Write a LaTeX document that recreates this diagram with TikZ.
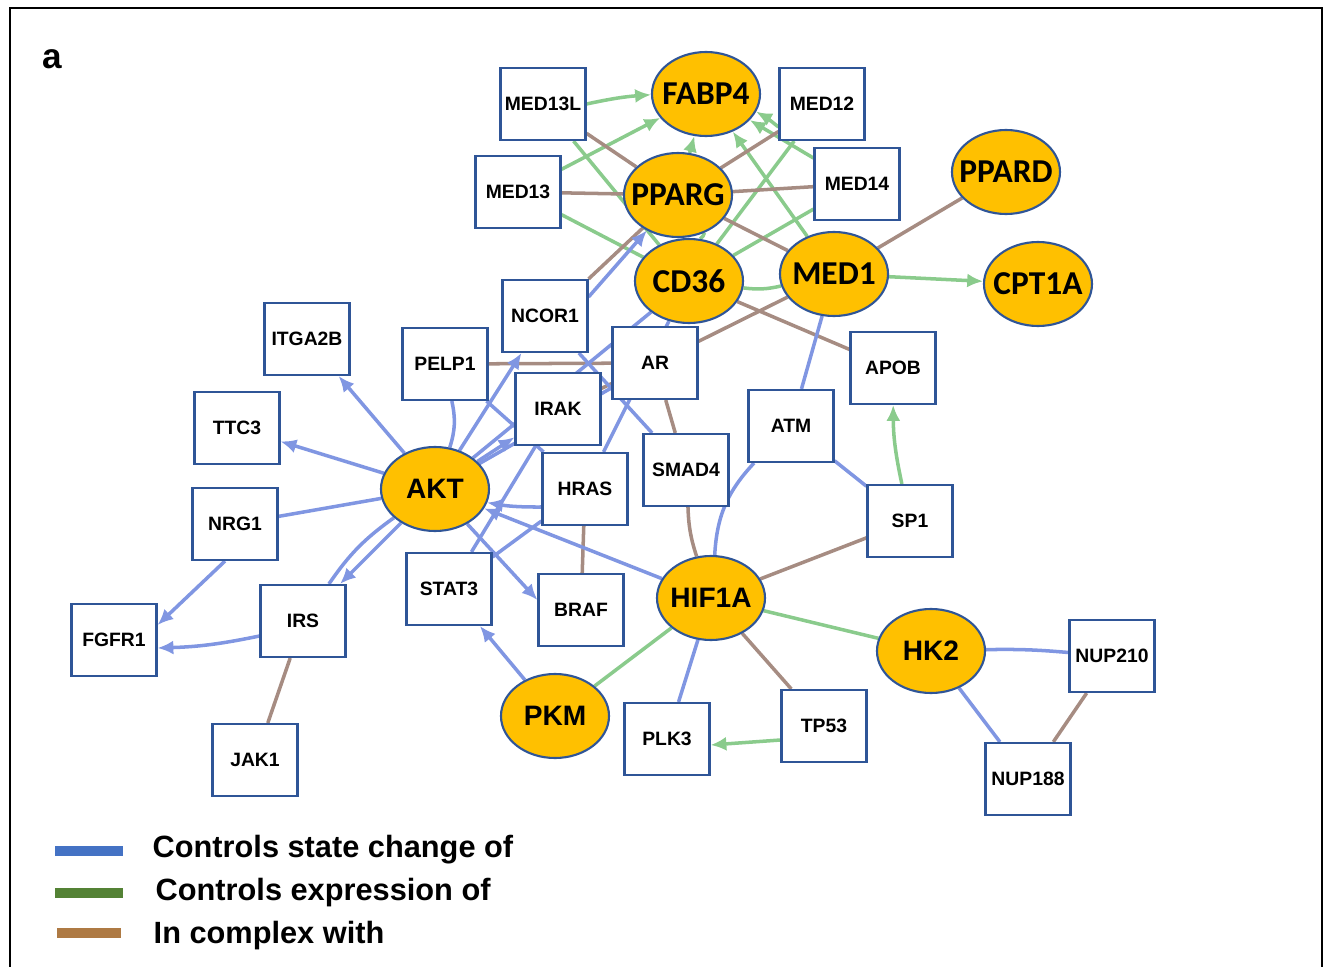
\documentclass[tikz,border=0pt]{standalone}
\usepackage{fontspec}
\setmainfont{Liberation Sans}
\newfontfamily\calfont{Carlito}
\usetikzlibrary{arrows.meta,backgrounds,shapes.geometric}

\definecolor{boxblue}{RGB}{47,85,151}
\definecolor{hubfill}{RGB}{255,192,0}
\definecolor{chgblue}{RGB}{128,150,226}
\definecolor{exprgreen}{RGB}{138,203,140}
\definecolor{cplxbrown}{RGB}{166,140,130}
\definecolor{legblue}{RGB}{68,114,196}
\definecolor{leggreen}{RGB}{84,130,53}
\definecolor{legbrown}{RGB}{174,122,68}

\begin{document}
\begin{tikzpicture}[
		gene/.style={draw=boxblue,line width=0.6pt,fill=white,minimum width=0.85cm,minimum height=0.72cm,inner sep=0pt,font=\bfseries\fontsize{5.5}{6.6}\selectfont},
		hub/.style={ellipse,draw=boxblue,line width=0.6pt,fill=hubfill,minimum width=1.08cm,minimum height=0.84cm,inner ysep=0pt,inner xsep=-2.5pt,font=\calfont\bfseries\fontsize{9.5}{11}\selectfont},
		sighub/.style={hub,font=\bfseries\fontsize{8}{9.6}\selectfont},
		chg/.style={chgblue,line width=1pt},
		expr/.style={exprgreen,line width=1pt},
		cplx/.style={cplxbrown,line width=1pt},
		arrowed/.style={-{Latex[length=4.5pt,width=4pt]}},
		legtext/.style={anchor=base west,inner sep=0pt,font=\bfseries\fontsize{8.75}{10.5}\selectfont}
	]
	\useasboundingbox (0,0) rectangle (13.24,-9.67);
	\draw[line width=0.7pt] (0.10,-9.67) |- (13.22,-0.08) -- (13.22,-9.67);
	\node[anchor=base west,inner sep=0pt,font=\bfseries\fontsize{10}{12}\selectfont] (panel) at (0.42,-0.68) {a};

	\node[gene] (med13l) at (5.43,-1.04) {MED13L};
	\node[gene] (med12) at (8.22,-1.04) {MED12};
	\node[gene] (med13) at (5.18,-1.92) {MED13};
	\node[gene] (med14) at (8.57,-1.84) {MED14};
	\node[gene] (ncor1) at (5.45,-3.16) {NCOR1};
	\node[gene] (itga2b) at (3.07,-3.39) {ITGA2B};
	\node[gene] (pelp1) at (4.45,-3.64) {PELP1};
	\node[gene] (ar) at (6.55,-3.63) {AR};
	\node[gene] (irak) at (5.58,-4.09) {IRAK};
	\node[gene] (apob) at (8.93,-3.68) {APOB};
	\node[gene] (atm) at (7.91,-4.26) {ATM};
	\node[gene] (ttc3) at (2.37,-4.28) {TTC3};
	\node[gene] (smad4) at (6.86,-4.70) {SMAD4};
	\node[gene] (hras) at (5.85,-4.89) {HRAS};
	\node[gene] (nrg1) at (2.35,-5.24) {NRG1};
	\node[gene] (sp1) at (9.10,-5.21) {SP1};
	\node[gene] (stat3) at (4.49,-5.89) {STAT3};
	\node[gene] (braf) at (5.81,-6.10) {BRAF};
	\node[gene] (irs) at (3.03,-6.21) {IRS};
	\node[gene] (fgfr1) at (1.14,-6.40) {FGFR1};
	\node[gene] (nup210) at (11.12,-6.56) {NUP210};
	\node[gene] (tp53) at (8.24,-7.26) {TP53};
	\node[gene] (plk3) at (6.67,-7.39) {PLK3};
	\node[gene] (jak1) at (2.55,-7.60) {JAK1};
	\node[gene] (nup188) at (10.28,-7.79) {NUP188};

	\node[hub] (fabp4) at (7.06,-0.94) {FABP4};
	\node[hub] (pparg) at (6.78,-1.95) {PPARG};
	\node[hub] (ppard) at (10.06,-1.72) {PPARD};
	\node[hub] (cd36) at (6.89,-2.81) {CD36};
	\node[hub] (med1) at (8.34,-2.74) {MED1};
	\node[hub] (cpt1a) at (10.38,-2.84) {CPT1A};
	\node[sighub] (akt) at (4.35,-4.89) {AKT};
	\node[sighub] (hif1a) at (7.11,-5.98) {HIF1A};
	\node[sighub] (hk2) at (9.31,-6.51) {HK2};
	\node[sighub] (pkm) at (5.55,-7.16) {PKM};

	\begin{scope}[on background layer]
		\draw[expr,arrowed] (med13l.east) to[bend left=4] (fabp4);
		\draw[expr,arrowed] (med13) -- (fabp4);
		\draw[expr,arrowed] (pparg) -- (fabp4);
		\draw[expr,arrowed] (med1) -- (fabp4);
		\draw[expr,arrowed] (med14) -- (fabp4);
		\draw[expr,arrowed] ([yshift=-2.3mm]med12.west) to[bend right=5] (fabp4);
		\draw[expr] (med13l) -- (cd36);
		\draw[expr] (med13) -- (cd36);
		\draw[expr] (cd36) -- (med12);
		\draw[expr] (cd36) -- (med14);
		\draw[expr] (cd36) to[bend right=10] (med1);
		\draw[expr] (pparg.-55) to[bend left=20] (cd36.75);
		\draw[expr,arrowed] (med1) -- (cpt1a);
		\draw[expr,arrowed] (sp1) to[bend left=6] (apob);
		\draw[expr] (hif1a) -- (hk2);
		\draw[expr] (hif1a) -- (pkm);
		\draw[expr,arrowed] ([yshift=-1.4mm]tp53.west) -- ([yshift=-0.6mm]plk3.east);

		\draw[cplx] (med13l) -- (pparg);
		\draw[cplx] (med13) -- (pparg);
		\draw[cplx] (pparg) -- (med14);
		\draw[cplx] (pparg) -- (med12);
		\draw[cplx] (pparg) -- (med1);
		\draw[cplx] (med1) -- (ppard);
		\draw[cplx] (cd36) -- (apob);
		\draw[cplx] (med1) -- (ar);
		\draw[cplx] (ncor1.north east) -- (pparg);
		\draw[cplx] (pelp1) -- (ar);
		\draw[cplx] (irak) -- (ar);
		\draw[cplx] (ar) -- (smad4);
		\draw[cplx] (smad4) to[bend right=8] (hif1a);
		\draw[cplx] (hras) -- (braf);
		\draw[cplx] (irs) -- (jak1);
		\draw[cplx] (sp1) -- (hif1a);
		\draw[cplx] (hif1a) -- (tp53);
		\draw[cplx] (nup210) -- (nup188);

		\draw[chg,arrowed] (akt) -- (itga2b);
		\draw[chg,arrowed] (akt) -- (ttc3);
		\draw[chg] (nrg1) -- (akt);
		\draw[chg,arrowed] ([xshift=-1mm]nrg1.south) -- ([yshift=1.5mm]fgfr1.east);
		\draw[chg,arrowed] ([yshift=-1.5mm]irs.west) to[bend left=5] ([yshift=-0.8mm]fgfr1.east);
		\draw[chg,arrowed] (akt) -- (irs);
		\draw[chg] (akt) to[bend right=10] (irs);
		\draw[chg,arrowed] (akt) -- ([yshift=1mm]braf.west);
		\draw[chg,arrowed] (akt) -- (ncor1);
		\draw[chg] (akt) to[bend right=15] (pelp1);
		\draw[chg] (pelp1) -- (hras);
		\draw[chg,arrowed] ([yshift=1.9mm]ncor1.east) -- (pparg);
		\draw[chg] (ncor1) -- (smad4);
		\draw[chg,arrowed] ([yshift=-1.8mm]hras.west) to[bend left=5] (akt);
		\draw[chg,arrowed] (hif1a) -- (akt);
		\draw[chg,arrowed] (akt) -- (irak);
		\draw[chg] (akt) -- (ar);
		\draw[chg] (akt) -- (cd36);
		\draw[chg] (stat3) -- (irak);
		\draw[chg] (stat3) -- (hras);
		\draw[chg] (cd36) -- (hras);
		\draw[chg,arrowed] (pkm) -- (stat3);
		\draw[chg] (hif1a) to[bend left=20] (atm);
		\draw[chg] (atm) -- (med1);
		\draw[chg] (atm) -- (sp1);
		\draw[chg] (hif1a) -- (plk3);
		\draw[chg] (hk2) to[bend left=3] (nup210);
		\draw[chg] (hk2) -- (nup188);
	\end{scope}

	\draw[legblue,line width=2.8pt] (0.55,-8.51) -- (1.23,-8.51);
	\draw[leggreen,line width=2.8pt] (0.55,-8.93) -- (1.23,-8.93);
	\draw[legbrown,line width=2.8pt] (0.57,-9.33) -- (1.21,-9.33);
	\node[legtext] (legchg) at (1.52,-8.57) {Controls state change of};
	\node[legtext] (legexpr) at (1.55,-9.00) {Controls expression of};
	\node[legtext] (legcplx) at (1.53,-9.43) {In complex with};
\end{tikzpicture}
\end{document}
